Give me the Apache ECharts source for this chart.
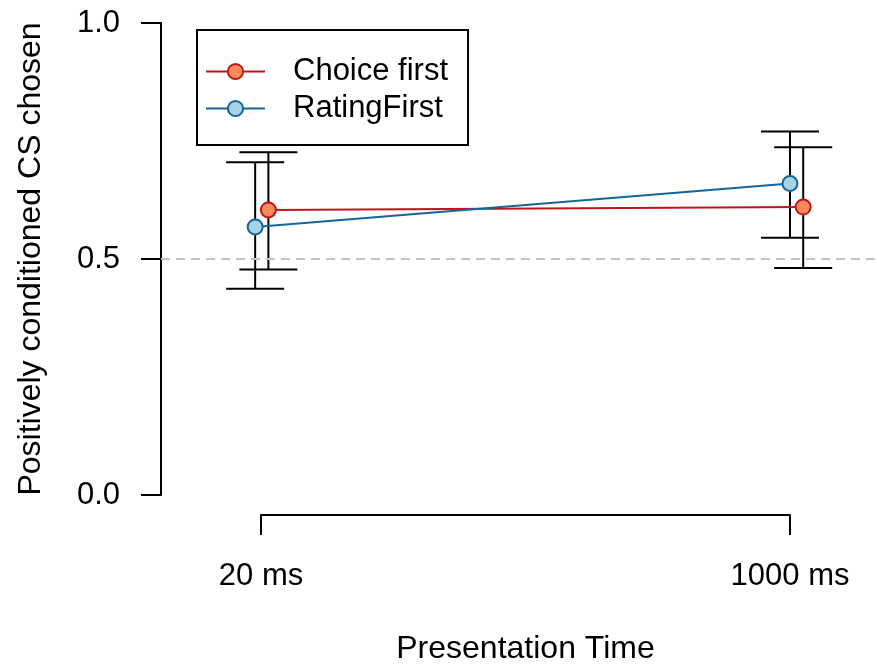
<!DOCTYPE html>
<html>
<head>
<meta charset="utf-8">
<script src="https://cdn.jsdelivr.net/npm/echarts@6/dist/echarts.min.js"></script>
<style>
html,body{margin:0;padding:0;background:#fff;}
#chart{width:877px;height:664px;}
</style>
</head>
<body>
<div id="chart"></div>
<script>
// Data
const categories = ['20 ms', '1000 ms'];
const categoryPos = [0, 1];
const yTicks = [0, 0.5, 1];

const choiceX = [0.014, 1.025];
const choiceMean = [0.604, 0.610];
const choiceLow = [0.478, 0.481];
const choiceHigh = [0.726, 0.737];

const ratingX = [-0.011, 1.0];
const ratingMean = [0.568, 0.660];
const ratingLow = [0.437, 0.545];
const ratingHigh = [0.705, 0.770];

const chanceLevel = 0.5;

const FONT = "'Liberation Sans', Arial, Helvetica, sans-serif";
const FS = 31;
const FS_NAME = 32;

function errorData(xs, lo, hi) {
  return xs.map((x, i) => [x, lo[i], hi[i]]);
}
function pointData(xs, ys) {
  return xs.map((x, i) => [x, ys[i]]);
}
function renderErrorBar(params, api) {
  const x = api.value(0);
  const lo = api.coord([x, api.value(1)]);
  const hi = api.coord([x, api.value(2)]);
  const half = 29;
  const style = { stroke: '#000', lineWidth: 2, fill: null };
  return {
    type: 'group',
    children: [
      { type: 'line', shape: { x1: lo[0], y1: lo[1], x2: hi[0], y2: hi[1] }, style: style },
      { type: 'line', shape: { x1: lo[0] - half, y1: lo[1], x2: lo[0] + half, y2: lo[1] }, style: style },
      { type: 'line', shape: { x1: hi[0] - half, y1: hi[1], x2: hi[0] + half, y2: hi[1] }, style: style }
    ]
  };
}

const chart = echarts.init(document.getElementById('chart'), null, { renderer: 'canvas' });

const option = {
  backgroundColor: '#ffffff',
  animation: false,
  textStyle: { fontFamily: FONT, color: '#000' },
  grid: [
    { left: 161, right: 0, top: 23, bottom: 169, outerBoundsMode: 'none', containLabel: false },
    { left: 261, width: 529, top: 23, bottom: 149, outerBoundsMode: 'none', containLabel: false }
  ],
  xAxis: [
    { type: 'value', gridIndex: 0, min: -0.189, max: 1.1645, show: false, axisLine: { onZero: false } },
    {
      type: 'value', gridIndex: 1, min: 0, max: 1, interval: 1,
      name: 'Presentation Time', nameLocation: 'middle', nameGap: 118,
      nameTextStyle: { fontSize: FS_NAME, fontFamily: FONT, color: '#000' },
      axisLine: { show: true, onZero: false, lineStyle: { color: '#000', width: 2 } },
      axisTick: { show: true, length: 20, lineStyle: { color: '#000', width: 2 } },
      splitLine: { show: false },
      axisLabel: {
        show: true, margin: 46, fontSize: FS, fontFamily: FONT, color: '#000',
        showMinLabel: true, showMaxLabel: true,
        formatter: function (v) {
          const i = categoryPos.indexOf(v);
          return i >= 0 ? categories[i] : '';
        }
      }
    }
  ],
  yAxis: [
    {
      type: 'value', gridIndex: 0, min: yTicks[0], max: yTicks[yTicks.length - 1], interval: 0.5,
      name: 'Positively conditioned CS chosen', nameLocation: 'middle', nameGap: 114,
      nameTextStyle: { fontSize: FS_NAME, fontFamily: FONT, color: '#000' },
      axisLine: { show: true, onZero: false, lineStyle: { color: '#000', width: 2 } },
      axisTick: { show: true, length: 20, lineStyle: { color: '#000', width: 2 } },
      splitLine: { show: false },
      axisLabel: {
        margin: 41, fontSize: FS, fontFamily: FONT, color: '#000',
        formatter: function (v) { return v.toFixed(1); }
      }
    },
    { type: 'value', gridIndex: 1, min: 0, max: 1, show: false }
  ],
  legend: {
    orient: 'vertical',
    left: 197, top: 30,
    padding: [26, 20, 21, 8],
    itemGap: 6,
    itemWidth: 59, itemHeight: 19,
    borderColor: '#000', borderWidth: 2,
    textStyle: { fontSize: FS, fontFamily: FONT, color: '#000', padding: [0, 0, 0, 23] },
    data: ['Choice first', 'RatingFirst']
  },
  series: [
    {
      type: 'custom', name: 'errRating', xAxisIndex: 0, yAxisIndex: 0, z: 1,
      renderItem: renderErrorBar, data: errorData(ratingX, ratingLow, ratingHigh),
      encode: { x: 0, y: [1, 2] }, silent: true
    },
    {
      type: 'custom', name: 'errChoice', xAxisIndex: 0, yAxisIndex: 0, z: 1,
      renderItem: renderErrorBar, data: errorData(choiceX, choiceLow, choiceHigh),
      encode: { x: 0, y: [1, 2] }, silent: true
    },
    {
      type: 'line', name: 'Choice first', xAxisIndex: 0, yAxisIndex: 0, z: 3,
      data: pointData(choiceX, choiceMean),
      symbol: 'circle', symbolSize: 15, showSymbol: true,
      lineStyle: { color: '#C0141C', width: 2 },
      itemStyle: { color: '#F98A5C', borderColor: '#C0141C', borderWidth: 2 },
      markLine: {
        silent: true, symbol: 'none', label: { show: false },
        lineStyle: { color: '#C4C4C4', type: [9, 6], width: 2 },
        data: [{ yAxis: chanceLevel }]
      }
    },
    {
      type: 'line', name: 'RatingFirst', xAxisIndex: 0, yAxisIndex: 0, z: 3,
      data: pointData(ratingX, ratingMean),
      symbol: 'circle', symbolSize: 15, showSymbol: true,
      lineStyle: { color: '#14659A', width: 2 },
      itemStyle: { color: '#A6D4E4', borderColor: '#14659A', borderWidth: 2 }
    }
  ]
};
chart.setOption(option);
</script>
</body>
</html>
